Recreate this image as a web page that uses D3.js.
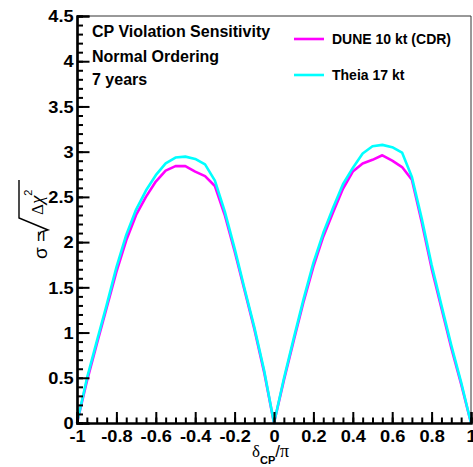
<!DOCTYPE html>
<html>
<head>
<meta charset="utf-8">
<script src="https://cdn.jsdelivr.net/npm/d3@7"></script>
<style>
  html, body { margin: 0; padding: 0; background: #fff; }
  svg { display: block; }
</style>
</head>
<body>
<svg id="chart" width="473" height="467"></svg>
<script>
// ---- data ----
const deltaCP = [-1, -0.95, -0.9, -0.85, -0.8, -0.75, -0.7, -0.65, -0.6, -0.55, -0.5,
                 -0.45, -0.4, -0.35, -0.3, -0.25, -0.2, -0.15, -0.1, -0.05, 0,
                 0.05, 0.1, 0.15, 0.2, 0.25, 0.3, 0.35, 0.4, 0.45, 0.5,
                 0.55, 0.6, 0.65, 0.7, 0.75, 0.8, 0.85, 0.9, 0.95, 1];
const dune10kt = [0, 0.46, 0.87, 1.27, 1.67, 2.02, 2.30, 2.50, 2.67, 2.79, 2.84,
                  2.84, 2.78, 2.73, 2.62, 2.30, 1.90, 1.47, 1.04, 0.56, 0,
                  0.47, 0.91, 1.34, 1.73, 2.06, 2.33, 2.59, 2.78, 2.87, 2.91,
                  2.96, 2.90, 2.83, 2.69, 2.22, 1.71, 1.27, 0.83, 0.43, 0];
const theia17kt = [0, 0.49, 0.90, 1.30, 1.72, 2.08, 2.36, 2.57, 2.74, 2.87, 2.935,
                   2.945, 2.92, 2.86, 2.68, 2.34, 1.93, 1.49, 1.06, 0.58, 0,
                   0.49, 0.935, 1.37, 1.77, 2.10, 2.38, 2.64, 2.82, 2.98, 3.06,
                   3.075, 3.05, 2.99, 2.72, 2.26, 1.75, 1.30, 0.86, 0.45, 0];
const seriesNames = ["DUNE 10 kt (CDR)", "Theia 17 kt"];
const seriesColors = ["#ff00ff", "#00ffff"];
const titleLines = ["CP Violation Sensitivity", "Normal Ordering", "7 years"];
const xMajorTicks = [-1, -0.8, -0.6, -0.4, -0.2, 0, 0.2, 0.4, 0.6, 0.8, 1];
const yMajorTicks = [0, 0.5, 1, 1.5, 2, 2.5, 3, 3.5, 4, 4.5];

// ---- layout ----
const svg = d3.select("#chart");
const L = 77, R = 471, T = 16, B = 423;
const x = d3.scaleLinear().domain([-1, 1]).range([L, R]);
const y = d3.scaleLinear().domain([0, 4.5]).range([B, T]);
const fontSans = "'Liberation Sans', Arial, Helvetica, sans-serif";

svg.append("rect").attr("width", 473).attr("height", 467).attr("fill", "#fff");

// frame (top/right thin)
svg.append("path")
  .attr("d", `M${L},${T}H${R}V${B}`)
  .attr("fill", "none").attr("stroke", "#333").attr("stroke-width", 1);

// curves
const line = d3.line().x((d, i) => x(deltaCP[i])).y(d => y(d));
[dune10kt, theia17kt].forEach((s, k) => {
  svg.append("path").datum(s)
    .attr("d", line)
    .attr("fill", "none")
    .attr("stroke", seriesColors[k])
    .attr("stroke-width", 2.6)
    .attr("stroke-linejoin", "round");
});

// axes
function styleAxis(g) {
  g.select(".domain").attr("stroke", "#000").attr("stroke-width", 2.2);
  g.selectAll(".tick line").attr("stroke", "#000").attr("stroke-width", 2);
}
const xMinor = svg.append("g").attr("transform", `translate(0,${B})`)
  .call(d3.axisBottom(x).tickValues(d3.range(-1, 1.0001, 0.05)).tickSize(-5.5).tickFormat(""));
styleAxis(xMinor);
const xAx = svg.append("g").attr("transform", `translate(0,${B})`)
  .call(d3.axisBottom(x).tickValues(xMajorTicks).tickSize(-11).tickPadding(8)
        .tickFormat(d => d3.format("")(d).replace("−", "-")));
styleAxis(xAx);
xAx.selectAll("text")
  .attr("font-family", fontSans).attr("font-weight", "bold").attr("font-size", 16)
  .attr("fill", "#000").attr("dy", "0.71em").attr("y", 8)
  .attr("transform", "scale(1.14,1)");

const yMinor = svg.append("g").attr("transform", `translate(${L},0)`)
  .call(d3.axisLeft(y).tickValues(d3.range(0, 4.5001, 0.1)).tickSize(-6).tickFormat(""));
styleAxis(yMinor);
const yAx = svg.append("g").attr("transform", `translate(${L},0)`)
  .call(d3.axisLeft(y).tickValues(yMajorTicks).tickSize(-12.5).tickPadding(3)
        .tickFormat(d => String(d)));
styleAxis(yAx);
yAx.selectAll("text")
  .attr("font-family", fontSans).attr("font-weight", "bold").attr("font-size", 16)
  .attr("fill", "#000").attr("dy", "0.36em")
  .attr("transform", "scale(1.14,1)");

// title text block
const tb = [37.3, 61.7, 85];
titleLines.forEach((t, i) => {
  svg.append("text").attr("x", 92).attr("y", tb[i]).text(t)
    .attr("font-family", fontSans).attr("font-weight", "bold").attr("font-size", 16)
    .attr("fill", "#000");
});

// legend
const legY = [39, 75], legTextY = [43.5, 80];
seriesNames.forEach((n, i) => {
  svg.append("line").attr("x1", 294).attr("x2", 324).attr("y1", legY[i]).attr("y2", legY[i])
    .attr("stroke", seriesColors[i]).attr("stroke-width", 2.6);
  svg.append("text").attr("x", 332).attr("y", legTextY[i]).text(n)
    .attr("font-family", fontSans).attr("font-weight", "bold").attr("font-size", 14)
    .attr("fill", "#000");
});

// x-axis title: δ_CP / π
const xt = svg.append("text").attr("x", 252).attr("y", 457).attr("fill", "#000");
xt.append("tspan").attr("font-family", "'Liberation Serif', serif").attr("font-size", 17).text("δ");
xt.append("tspan").attr("font-family", fontSans).attr("font-weight", "bold").attr("font-size", 11)
  .attr("dy", 7).text("CP");
xt.append("tspan").attr("font-family", fontSans).attr("font-size", 17).attr("dy", -7).text("/");
xt.append("tspan").attr("font-family", "'Liberation Serif', serif").attr("font-size", 18).text("π");

// y-axis title: σ = sqrt(Δχ²), rotated
const yt = svg.append("g").attr("transform", "translate(47,260) rotate(-90)");
yt.append("text").attr("x", 1).attr("y", 0).attr("font-family", fontSans).attr("font-size", 19)
  .attr("fill", "#000").text("σ =");
yt.append("path")
  .attr("d", "M25,-8 L28,-6 L30,1 L42,-28 L80,-28")
  .attr("fill", "none").attr("stroke", "#000").attr("stroke-width", 1.4);
const yt2 = yt.append("text").attr("x", 45).attr("y", -4).attr("fill", "#000");
yt2.append("tspan").attr("font-family", "'Liberation Serif', serif").attr("font-size", 17).text("Δ");
yt2.append("tspan").attr("font-family", "'Liberation Serif', serif").attr("font-style", "italic")
  .attr("font-size", 19).text("χ");
yt2.append("tspan").attr("font-family", fontSans).attr("font-size", 11).attr("dy", -11).text("2");
</script>
</body>
</html>
